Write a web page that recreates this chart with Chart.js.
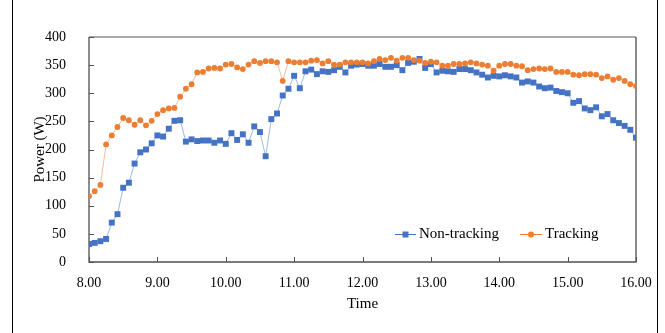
<!DOCTYPE html>
<html><head><meta charset="utf-8">
<script src="https://cdn.jsdelivr.net/npm/chart.js@4/dist/chart.umd.min.js"></script>
<style>html,body{margin:0;padding:0;background:#fff}#wrap{width:665px;height:333px;position:relative}</style>
</head><body><div id="wrap"><canvas id="c" width="665" height="333"></canvas></div>
<script>
const times = [
"8:00","8:05","8:10","8:15","8:20","8:25","8:30","8:35","8:40","8:45","8:50","8:55",
"9:00","9:05","9:10","9:15","9:20","9:25","9:30","9:35","9:40","9:45","9:50","9:55",
"10:00","10:05","10:10","10:15","10:20","10:25","10:30","10:35","10:40","10:45","10:50","10:55",
"11:00","11:05","11:10","11:15","11:20","11:25","11:30","11:35","11:40","11:45","11:50","11:55",
"12:00","12:05","12:10","12:15","12:20","12:25","12:30","12:35","12:40","12:45","12:50","12:55",
"13:00","13:05","13:10","13:15","13:20","13:25","13:30","13:35","13:40","13:45","13:50","13:55",
"14:00","14:05","14:10","14:15","14:20","14:25","14:30","14:35","14:40","14:45","14:50","14:55",
"15:00","15:05","15:10","15:15","15:20","15:25","15:30","15:35","15:40","15:45","15:50","15:55",
"16:00"];
const nonTracking = [
32,34,37,41,70,85,132,141,175,195,200,211,
225,223,237,251,252,214,218,215,216,216,212,216,
210,229,217,227,212,241,231,188,254,264,296,308,
331,309,339,342,334,339,338,341,347,337,349,351,
352,349,349,352,347,347,350,341,354,356,361,345,
352,337,340,339,338,343,343,341,337,333,328,331,
330,332,330,328,319,321,319,312,309,310,304,302,
300,283,286,273,270,275,259,263,252,247,242,235,
221];
const tracking = [
117,126,137,209,225,240,256,252,244,252,243,251,
263,270,273,274,294,308,316,337,338,344,345,344,
351,352,346,343,351,357,354,357,357,355,322,357,
355,355,355,358,359,353,357,351,351,355,355,355,
355,353,357,361,359,363,358,363,363,359,358,354,
356,355,349,349,352,352,353,355,353,351,349,340,
349,352,352,349,348,341,343,344,343,344,338,338,
338,333,332,334,334,333,327,330,324,327,322,316,
313];
const xTickLabels = ["8.00","9.00","10.00","11.00","12.00","13.00","14.00","15.00","16.00"];
const yTickLabels = ["0","50","100","150","200","250","300","350","400"];
const seriesNames = ["Non-tracking","Tracking"];
const xTitle = "Time";
const yTitle = "Power (W)";

const BLUE = "#4472C4", ORANGE = "#ED7D31";
const FONT = "'Liberation Serif', 'Times New Roman', serif";
const toHour = s => { const p = s.split(":"); return Number(p[0]) + Number(p[1]) / 60; };
const pts = arr => arr.map((v, i) => ({x: toHour(times[i]), y: v}));

const decor = {
  id: "decor",
  beforeDraw(chart) {
    const ctx = chart.ctx;
    ctx.save();
    ctx.fillStyle = "#fff";
    ctx.fillRect(0, 0, chart.width, chart.height);
    ctx.strokeStyle = "#000";
    ctx.lineWidth = 1;
    ctx.beginPath();
    ctx.moveTo(12.5, 0); ctx.lineTo(12.5, chart.height);
    ctx.moveTo(657.5, 0); ctx.lineTo(657.5, chart.height);
    ctx.stroke();
    ctx.restore();
  },
  beforeDatasetsDraw(chart) {
    const ctx = chart.ctx, a = chart.chartArea;
    const xs = chart.scales.x, ys = chart.scales.y;
    ctx.save();
    ctx.lineWidth = 1.3;
    ctx.strokeStyle = "#8c8c8c";
    ctx.beginPath();
    ctx.moveTo(a.left, a.top); ctx.lineTo(a.right, a.top);
    ctx.stroke();
    ctx.strokeStyle = "#505050";
    ctx.beginPath();
    ctx.moveTo(a.left, a.top); ctx.lineTo(a.left, a.bottom); ctx.lineTo(a.right, a.bottom); ctx.lineTo(a.right, a.top);
    ctx.stroke();
    ctx.lineWidth = 1;
    ctx.beginPath();
    xs.ticks.forEach(t => { const px = Math.round(xs.getPixelForValue(t.value)) + 0.5; ctx.moveTo(px, a.bottom); ctx.lineTo(px, a.bottom - 5); });
    ys.ticks.forEach(t => { const py = Math.round(ys.getPixelForValue(t.value)) + 0.5; ctx.moveTo(a.left, py); ctx.lineTo(a.left + 5, py); });
    ctx.stroke();
    ctx.restore();
  },
  afterDraw(chart) {
    const ctx = chart.ctx;
    const items = [
      {name: seriesNames[0], color: BLUE, x1: 395, x2: 416, tx: 419, style: "rect"},
      {name: seriesNames[1], color: ORANGE, x1: 520, x2: 542, tx: 545, style: "circle"}
    ];
    const y = 234.5;
    ctx.save();
    items.forEach(it => {
      ctx.strokeStyle = it.color; ctx.lineWidth = 1;
      ctx.beginPath(); ctx.moveTo(it.x1, y); ctx.lineTo(it.x2, y); ctx.stroke();
      ctx.fillStyle = it.color;
      const cx = (it.x1 + it.x2) / 2;
      if (it.style === "rect") ctx.fillRect(cx - 3, y - 3, 6, 6);
      else { ctx.beginPath(); ctx.arc(cx, y, 3, 0, Math.PI * 2); ctx.fill(); }
      ctx.fillStyle = "#000";
      ctx.font = "15px " + FONT;
      ctx.textBaseline = "middle";
      ctx.fillText(it.name, it.tx, y);
    });
    ctx.restore();
  }
};

new Chart(document.getElementById("c"), {
  type: "line",
  data: {
    datasets: [
      {label: seriesNames[0], data: pts(nonTracking), order: 2,
       borderColor: "rgba(68,114,196,0.5)", borderWidth: 1,
       pointStyle: "rect", pointRadius: 4.2, pointBackgroundColor: BLUE, pointBorderWidth: 0, tension: 0},
      {label: seriesNames[1], data: pts(tracking), order: 1,
       borderColor: "rgba(237,125,49,0.5)", borderWidth: 1,
       pointStyle: "circle", pointRadius: 2.9, pointBackgroundColor: ORANGE, pointBorderWidth: 0, tension: 0}
    ]
  },
  options: {
    responsive: false, animation: false, devicePixelRatio: 1,
    layout: {padding: {left: 0, right: 29, top: 37, bottom: 0}},
    plugins: {legend: {display: false}, tooltip: {enabled: false}},
    scales: {
      x: {
        type: "linear", min: 8, max: 16,
        grid: {display: false}, border: {display: false},
        ticks: {stepSize: 1, maxRotation: 0, autoSkip: false, padding: 5, color: "#000",
                font: {family: FONT, size: 14}, callback: (v, i) => xTickLabels[i]},
        title: {display: true, text: xTitle, color: "#000", font: {family: FONT, size: 15}, padding: {top: 0, bottom: 20}},
        afterFit: s => { s.height = 71; }
      },
      y: {
        min: 0, max: 400,
        grid: {display: false}, border: {display: false},
        ticks: {stepSize: 50, padding: 15, color: "#000",
                font: {family: FONT, size: 14}, callback: (v, i) => yTickLabels[i]},
        title: {display: true, text: yTitle, color: "#000", font: {family: FONT, size: 15}, padding: {top: 31, bottom: 0}},
        afterFit: s => { s.width = 89; }
      }
    }
  },
  plugins: [decor]
});
</script></body></html>
